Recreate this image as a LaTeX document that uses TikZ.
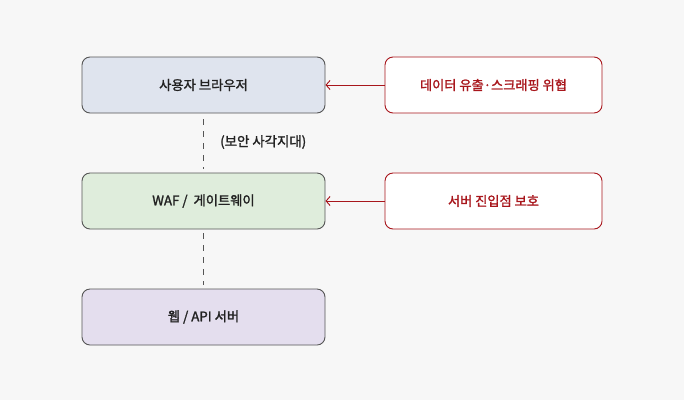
\documentclass[tikz,border=0pt]{standalone}
\usepackage{fontspec}
\setmainfont{Noto Sans CJK KR}
\newfontfamily\mediumfont[FakeBold=1.6]{Noto Sans CJK KR}
\usetikzlibrary{arrows.meta}

\definecolor{bgGray}{HTML}{F7F7F7}
\definecolor{edgeGray}{HTML}{555555}
\definecolor{textDark}{HTML}{222222}
\definecolor{riskRed}{HTML}{A8161C}
\definecolor{fillBlue}{HTML}{DFE4EE}
\definecolor{fillGreen}{HTML}{DFEDDC}
\definecolor{fillPurple}{HTML}{E4DEEE}

\begin{document}
\begin{tikzpicture}
[x=1pt,y=-1pt,
  layerDecorate/.style={shape=rectangle,rounded corners=8pt,draw=edgeGray,line width=0.9pt,
    minimum width=243pt,minimum height=56pt,inner sep=0pt,
    font=\mediumfont\fontsize{13.3}{15}\selectfont,text=textDark},%
  riskDecorate/.style={shape=rectangle,rounded corners=8pt,draw=riskRed,line width=0.9pt,fill=white,
    minimum width=217pt,minimum height=56pt,inner sep=0pt,
    font=\mediumfont\fontsize{13.2}{15}\selectfont,text=riskRed},%
  arrowDecorate/.style={-{Straight Barb[length=4pt,width=9pt]},draw=riskRed,line width=0.9pt},%
  dashDecorate/.style={draw=edgeGray,line width=0.8pt,dash pattern=on 6pt off 6pt}]
\fill[bgGray] (0,0) rectangle (684,400);
%% layers on the left
\foreach \nodename/\y/\col/\txt in {
  browser/85/fillBlue/{사용자 브라우저},
  gateway/201/fillGreen/{WAF /\ \ 게이트웨이},
  server/317/fillPurple/{웹 / API 서버}}
{
  \node (\nodename) at (203.5,\y) [layerDecorate,fill=\col] {\txt};
}
%% risks on the right
\foreach \nodename/\y/\txt in {
  leak/85/{데이터 유출·스크래핑 위협},
  entry/201/{서버 진입점 보호}}
{
  \node (\nodename) at (493.5,\y) [riskDecorate] {\txt};
}
%% dashed links between layers
\draw[dashDecorate] ([yshift=-6pt]browser.south) -- ([yshift=4pt]gateway.north);
\draw[dashDecorate] ([yshift=-4pt]gateway.south) -- ([yshift=4pt]server.north);
\node (blind) at (220,142) [anchor=west,inner sep=0pt,font=\mediumfont\fontsize{13.4}{15}\selectfont,text=textDark] {(보안 사각지대)};
%% risk arrows
\path
\foreach \startnode/\endnode in {leak/browser, entry/gateway}
{
  (\startnode) edge[arrowDecorate] (\endnode)
};
\end{tikzpicture}
\end{document}
